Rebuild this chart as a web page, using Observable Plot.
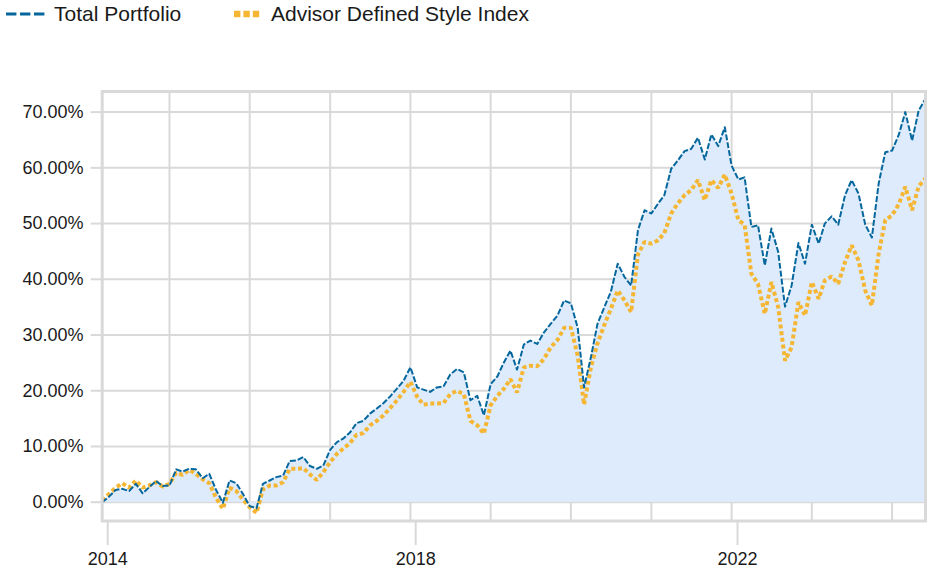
<!DOCTYPE html>
<html><head><meta charset="utf-8">
<script src="https://cdn.jsdelivr.net/npm/d3@7"></script>
<script src="https://cdn.jsdelivr.net/npm/@observablehq/plot@0.6"></script>
<style>
body{margin:0;background:#fff;font-family:"Liberation Sans",Arial,sans-serif;}
#legend{position:relative;height:28px;width:936px;color:#1a1a1a;font-size:21px;}
#legend .item{position:absolute;top:0;height:28px;display:flex;align-items:center;white-space:nowrap;}
#legend svg{margin-right:10px;}
</style></head><body>
<div id="legend"></div>
<div id="chart"></div>
<script>
const seriesNames = ["Total Portfolio", "Advisor Defined Style Index"];
const seriesColors = ["#05679c", "#f5b633"];
const firstMonth = "2014-03-01";
const afterLastMonth = "2024-07-01";
const totalPortfolio = [
  0.0, 1.0, 2.2, 2.4, 2.0, 3.3, 1.6, 2.7, 3.8, 2.9,
  3.0, 5.9, 5.5, 6.0, 5.9, 4.3, 5.1, 2.2, -0.1, 3.9,
  3.4, 1.5, -0.7, -1.1, 3.3, 3.9, 4.5, 4.8, 7.4, 7.5,
  8.1, 6.5, 6.0, 6.6, 9.4, 10.8, 11.4, 12.5, 14.2, 14.6,
  15.9, 16.8, 17.8, 19.0, 20.4, 21.8, 24.2, 20.6, 20.2, 19.8,
  20.6, 20.8, 22.9, 23.9, 23.3, 18.3, 19.1, 15.6, 21.2, 22.6,
  25.0, 27.2, 23.8, 28.3, 29.0, 28.4, 30.5, 32.0, 33.5, 36.2,
  35.7, 31.3, 20.6, 26.0, 32.0, 35.0, 37.8, 42.8, 40.4, 38.9,
  48.8, 52.4, 51.8, 53.6, 55.1, 59.8, 61.3, 63.0, 63.4, 65.4,
  61.5, 66.0, 63.9, 67.3, 60.4, 57.9, 58.3, 49.4, 49.7, 42.5,
  49.1, 44.9, 35.1, 38.9, 46.5, 42.8, 49.8, 46.4, 50.0, 51.3,
  49.8, 55.1, 57.8, 55.4, 49.8, 47.5, 57.2, 62.8, 63.1, 66.0,
  70.0, 64.9, 70.3, 72.4
];
const styleIndex = [
  0.3, 1.5, 2.6, 3.4, 2.6, 3.9, 2.6, 3.0, 3.6, 2.8,
  3.3, 5.3, 4.9, 5.8, 5.1, 4.1, 3.4, 0.8, -1.2, 2.6,
  2.0, 0.5, -0.9, -1.9, 2.3, 3.0, 3.0, 3.6, 6.0, 6.0,
  6.1, 5.0, 4.0, 5.4, 7.2, 8.7, 9.6, 10.6, 12.1, 12.4,
  13.8, 14.6, 15.6, 16.9, 18.3, 19.8, 21.6, 18.9, 17.5, 17.7,
  17.7, 17.8, 19.4, 20.0, 19.4, 14.6, 13.8, 12.3, 17.4, 19.1,
  20.3, 22.1, 19.7, 24.2, 24.5, 24.4, 25.7, 27.8, 29.1, 31.3,
  31.3, 26.3, 17.5, 24.2, 28.5, 31.8, 34.7, 38.0, 36.2, 34.1,
  44.5, 46.7, 46.4, 47.0, 48.3, 51.8, 53.6, 55.1, 56.0, 57.8,
  54.2, 57.8, 56.4, 58.8, 55.4, 50.6, 49.8, 41.0, 39.2, 33.8,
  39.5, 35.0, 25.4, 27.8, 35.9, 33.5, 39.5, 36.5, 39.8, 40.5,
  39.2, 43.1, 46.1, 43.4, 38.0, 35.3, 44.6, 50.6, 51.5, 53.5,
  56.6, 52.4, 56.7, 58.1
];
const yTicks = [0, 10, 20, 30, 40, 50, 60, 70];
const xTickDates = ["2014-03-26", "2018-01-25", "2022-01-28"];
const xTickLabels = ["2014", "2018", "2022"];
const gridYears = ["2015", "2016", "2017", "2018", "2019", "2020", "2021", "2022", "2023", "2024"];

const months = d3.utcMonth.range(new Date(firstMonth), new Date(afterLastMonth));
const data = months.map((d, i) => ({date: d, total: totalPortfolio[i], style: styleIndex[i]}));
const tickDates = xTickDates.map(s => new Date(s));
const labelOf = new Map(tickDates.map((d, i) => [+d, xTickLabels[i]]));
const gridDates = gridYears.map(y => new Date(y + "-01-01"));

// legend
const legend = document.getElementById("legend");
legend.innerHTML = `
<div class="item" style="left:6px"><svg width="40" height="10"><line x1="0" y1="5" x2="40" y2="5" stroke="${seriesColors[0]}" stroke-width="3" stroke-dasharray="10.4,3.6"/></svg><span style="margin-left:-2px">${seriesNames[0]}</span></div>
<div class="item" style="left:234px"><svg width="27" height="10"><line x1="0" y1="5" x2="27" y2="5" stroke="${seriesColors[1]}" stroke-width="6.4" stroke-dasharray="6.4,3"/></svg><span>${seriesNames[1]}</span></div>`;

const grey = "#d9d9d9";
const chart = Plot.plot({
  width: 936,
  height: 545,
  marginTop: 63,
  marginBottom: 52.5,
  marginLeft: 101.7,
  marginRight: 11,
  style: {fontFamily: "'Liberation Sans', Arial, sans-serif", fontSize: "18px", color: "#1a1a1a", background: "#fff"},
  x: {type: "utc", domain: [months[0], months[months.length - 1]]},
  y: {domain: [-3.37, 73.7]},
  marks: [
    Plot.gridX(gridDates, {stroke: grey, strokeOpacity: 1, strokeWidth: 2}),
    Plot.gridY(yTicks, {stroke: grey, strokeOpacity: 1, strokeWidth: 2}),
    Plot.areaY(data, {x: "date", y: "total", fill: "#deebfc", curve: "linear"}),
    Plot.lineY(data, {x: "date", y: "style", stroke: seriesColors[1], strokeWidth: 4, strokeDasharray: "4,2.7", strokeLinecap: "butt", strokeLinejoin: "miter"}),
    Plot.lineY(data, {x: "date", y: "total", stroke: seriesColors[0], strokeWidth: 2, strokeDasharray: "6,2", strokeLinecap: "butt"}),
    Plot.axisY(yTicks, {tickSize: 11, tickPadding: 7.7, stroke: grey, strokeWidth: 2, strokeOpacity: 1, tickFormat: d => d.toFixed(2) + "%", label: null, fontSize: 18}),
    Plot.axisX(tickDates, {tickSize: 24.5, tickPadding: 6.7, stroke: grey, strokeWidth: 2, strokeOpacity: 1, tickFormat: d => labelOf.get(+d), label: null, fontSize: 18}),
    Plot.frame({stroke: grey, strokeWidth: 3})
  ]
});
document.getElementById("chart").appendChild(chart);
</script>
</body></html>
